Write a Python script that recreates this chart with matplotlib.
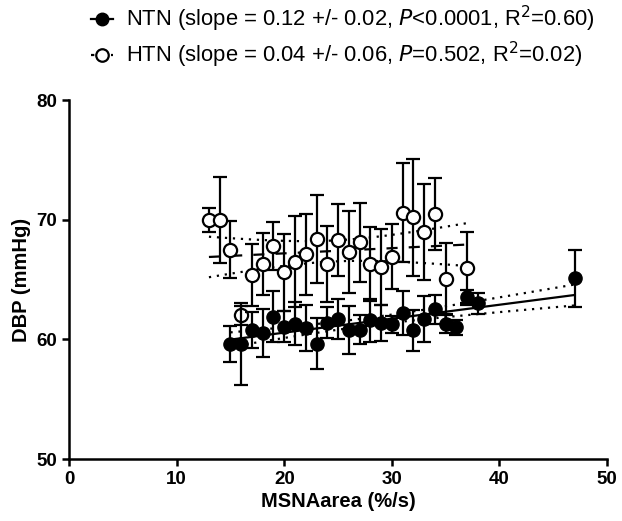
import numpy as np
import matplotlib
matplotlib.use("Agg")
import matplotlib.pyplot as plt
from matplotlib.lines import Line2D

plt.rcParams["font.family"] = ["Liberation Sans", "DejaVu Sans"]

# ── Data (binned means +/- SEM) ───────────────────────────────────────────────
ntn_x = [15, 16, 17, 18, 19, 20, 21, 22, 23, 24, 25, 26, 27, 28, 29, 30,
         31, 32, 33, 34, 35, 36, 37, 38, 47]
ntn_y = [59.6, 59.6, 60.8, 60.5, 61.9, 61.05, 61.3, 60.95, 59.65, 61.4,
         61.7, 60.8, 60.8, 61.6, 61.4, 61.25, 62.2, 60.75, 61.7, 62.5,
         61.3, 61.0, 63.5, 63.0, 65.1]
ntn_err = [1.5, 3.4, 1.5, 2.0, 2.1, 1.3, 1.8, 1.95, 2.1, 1.3, 1.7, 2.0,
           1.2, 1.8, 1.5, 0.7, 1.8, 1.7, 1.9, 1.2, 0.8, 0.65, 0.6, 0.9, 2.4]

htn_x = [13, 14, 15, 16, 17, 18, 19, 20, 21, 22, 23, 24, 25, 26, 27, 28,
         29, 30, 31, 32, 33, 34, 35, 37]
htn_y = [70.0, 70.0, 67.5, 62.0, 65.4, 66.3, 67.8, 65.6, 66.5, 67.1, 68.4,
         66.3, 68.3, 67.3, 68.1, 66.3, 66.05, 66.9, 70.6, 70.2, 69.0, 70.5,
         65.05, 66.0]
htn_err = [1.0, 3.6, 2.4, 0.8, 2.6, 2.6, 2.0, 3.2, 3.8, 3.4, 3.7, 3.2, 3.0,
           3.4, 3.3, 3.1, 3.2, 2.7, 4.1, 4.9, 4.0, 3.0, 3.0, 3.0]

ntn_label = r"NTN (slope = 0.12 +/- 0.02, $\it{P}$<0.0001, R$^2$=0.60)"
htn_label = r"HTN (slope = 0.04 +/- 0.06, $\it{P}$=0.502, R$^2$=0.02)"

T95 = {22: 2.074, 23: 2.069}   # two-sided 95 % t critical values


def fit_with_ci(x, y):
    x = np.asarray(x, float)
    y = np.asarray(y, float)
    n = len(x)
    b, a = np.polyfit(x, y, 1)
    resid = y - (a + b * x)
    s = np.sqrt(np.sum(resid ** 2) / (n - 2))
    sxx = np.sum((x - x.mean()) ** 2)
    xs = np.linspace(x.min(), x.max(), 100)
    yf = a + b * xs
    half = T95[n - 2] * s * np.sqrt(1.0 / n + (xs - x.mean()) ** 2 / sxx)
    return xs, yf, yf - half, yf + half


fig = plt.figure(figsize=(6.22, 5.21), dpi=100)
ax = fig.add_axes([0.111, 0.119, 0.865, 0.689])

LW = 1.6
dot = (0, (1, 2.6))

# HTN (open circles) first, NTN on top
ax.errorbar(htn_x, htn_y, yerr=htn_err, fmt="o", ms=9.5, mfc="white",
            mec="black", mew=1.6, ecolor="black", elinewidth=LW,
            capsize=5, capthick=LW, zorder=3)
xs, yf, lo, hi = fit_with_ci(htn_x, htn_y)
ax.plot(xs, yf, color="black", lw=LW, ls=(0, (5, 5)), zorder=2)
ax.plot(xs, lo, color="black", lw=LW, ls=dot, zorder=2)
ax.plot(xs, hi, color="black", lw=LW, ls=dot, zorder=2)

ax.errorbar(ntn_x, ntn_y, yerr=ntn_err, fmt="o", ms=9.5, mfc="black",
            mec="black", ecolor="black", elinewidth=LW,
            capsize=5, capthick=LW, zorder=4)
xs, yf, lo, hi = fit_with_ci(ntn_x, ntn_y)
ax.plot(xs, yf, color="black", lw=LW, zorder=4)
ax.plot(xs, lo, color="black", lw=LW, ls=dot, zorder=4)
ax.plot(xs, hi, color="black", lw=LW, ls=dot, zorder=4)

ax.set_xlim(0, 50)
ax.set_ylim(50, 80)
ax.set_xticks([0, 10, 20, 30, 40, 50])
ax.set_yticks([50, 60, 70, 80])
for side in ("top", "right"):
    ax.spines[side].set_visible(False)
for side in ("left", "bottom"):
    ax.spines[side].set_linewidth(1.8)
ax.tick_params(width=1.8, length=5, labelsize=13.5)
for lab in ax.get_xticklabels() + ax.get_yticklabels():
    lab.set_fontweight("bold")
ax.set_xlabel("MSNAarea (%/s)", fontsize=14.5, fontweight="bold", labelpad=3)
ax.set_ylabel("DBP (mmHg)", fontsize=14.5, fontweight="bold", labelpad=4)

handles = [
    Line2D([], [], color="black", lw=LW, marker="o", ms=9, mfc="black"),
    Line2D([], [], color="black", lw=LW, ls=(0, (1.5, 1.5)), marker="o",
           ms=9, mfc="white", mew=1.6),
]
fig.legend(handles, [ntn_label, htn_label], loc="upper left",
           bbox_to_anchor=(0.115, 1.03), frameon=False, fontsize=15.8,
           handlelength=1.0, handletextpad=0.6, labelspacing=0.25)

fig.savefig("out.png", dpi=100)
